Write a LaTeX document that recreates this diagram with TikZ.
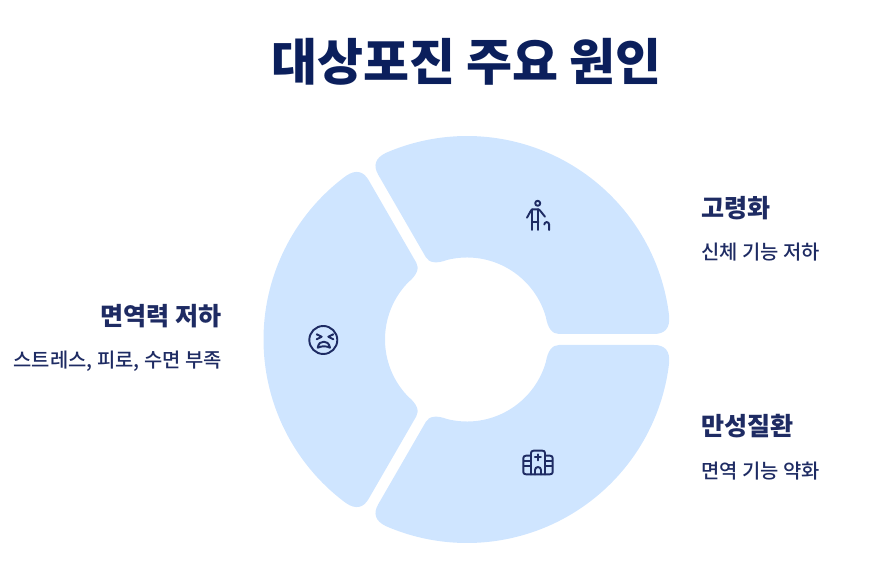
\documentclass[tikz,border=0pt]{standalone}
\usepackage{fontspec}
\setmainfont{Noto Sans CJK KR}
\newfontfamily\medfont{Noto Sans CJK KR Medium}
\usetikzlibrary{calc}
\definecolor{wedgeblue}{HTML}{CFE5FF}
\definecolor{titleink}{HTML}{0B1F5C}
\definecolor{labelink}{HTML}{1E2B63}
\newcommand{\rcorner}[3]{.. controls ($(#1)!.667!(#2)$) and ($(#3)!.667!(#2)$) .. (#3)}
\tikzset{
  titletext/.style={font=\fontsize{37.5}{45}\selectfont\bfseries,text=titleink,inner sep=0pt},
  headtext/.style={font=\fontsize{18.8}{23}\selectfont\bfseries,text=labelink,inner sep=0pt},
  subtext/.style={font=\fontsize{14.9}{18}\medfont,text=labelink,inner sep=0pt},
  iconline/.style={draw=labelink,line width=1.45pt,line cap=round,line join=round}
}
\begin{document}
\begin{tikzpicture}[x=.75pt,y=-.75pt]
\useasboundingbox (0,0) rectangle (893,573);
\foreach \R in {0,120,240}{
\begin{scope}[shift={(467,339.5)},x=.75pt,y=.75pt,rotate=\R]
  \coordinate (a) at (92,5.5);
  \coordinate (aq) at (81.8,5.5);
  \coordinate (b) at (187,5.5);
  \coordinate (bq) at (203.4,5.5);
  \coordinate (bp) at (6.5:203.5);
  \coordinate (cp) at (113.5:203.5);
  \coordinate (cq) at (-96.94,178.9);
  \coordinate (c) at (-88.74,164.7);
  \coordinate (d) at (-41.24,82.42);
  \coordinate (dq) at (-36.14,73.59);
  \coordinate (dp) at (104:82);
  \coordinate (ap) at (16:82);
  \fill[wedgeblue] (a) -- (b) \rcorner{b}{bq}{bp}
    arc[start angle=6.5,end angle=113.5,radius=203.5]
    \rcorner{cp}{cq}{c} -- (d) \rcorner{d}{dq}{dp}
    arc[start angle=104,end angle=16,radius=82]
    \rcorner{ap}{aq}{a} -- cycle;
\end{scope}
}
\node[titletext] (title) at (466.5,62) {대상포진 주요 원인};
\node[headtext,anchor=west] (h1) at (701,208) {고령화};
\node[subtext,anchor=west] (s1) at (701,252.5) {신체 기능 저하};
\node[headtext,anchor=west] (h2) at (701,426) {만성질환};
\node[subtext,anchor=west] (s2) at (701,471.5) {면역 기능 약화};
\node[headtext,anchor=east] (h3) at (222,316.5) {면역력 저하};
\node[subtext,anchor=east] (s3) at (222,361.5) {스트레스, 피로, 수면 부족};
% person icon
\draw[iconline] (537.7,203.3) circle[radius=2.5];
\draw[iconline] (527,217.7) -- (531,210.5) -- (532.5,209.3) -- (538.5,209.3) -- (540,210.5) -- (545,216.7);
\draw[iconline] (532.3,209.3) -- (532.3,230) (538.3,209.3) -- (538.3,230) (532.3,221.7) -- (538.3,221.7);
\draw[iconline] (544.3,224.5) arc[start angle=180,end angle=360,radius=2.4] -- (549.1,230);
% face icon
\draw[iconline] (323.3,340) circle[radius=14];
\draw[iconline] (316.7,334.3) -- (321.7,336.7) -- (316.7,339.3);
\draw[iconline] (333.3,334.3) -- (328.3,336.7) -- (333.3,339.3);
\draw[iconline] (317.7,347.7) .. controls (318.5,343) and (321,341.7) .. (323.8,341.7) .. controls (326.6,341.7) and (329,343) .. (330,347.7) .. controls (326,345.8) and (322,345.8) .. (317.7,347.7) -- cycle;
% hospital icon
\draw[iconline] (531,474.3) -- (531,453) .. controls (531,451.5) and (532,450.7) .. (533.5,450.7) -- (542.5,450.7) .. controls (544,450.7) and (545,451.5) .. (545,453) -- (545,474.3);
\draw[iconline] (531,455.7) -- (526,455.7) .. controls (524.3,455.7) and (523.3,456.7) .. (523.3,458.2) -- (523.3,472) .. controls (523.3,473.5) and (524.3,474.3) .. (526,474.3) -- (550,474.3) .. controls (551.7,474.3) and (552.7,473.5) .. (552.7,472) -- (552.7,458.2) .. controls (552.7,456.7) and (551.7,455.7) .. (550,455.7) -- (545,455.7);
\draw[iconline] (537.9,454.4) -- (537.9,460.4) (534.9,457.4) -- (540.9,457.4);
\draw[iconline] (535,474.3) -- (535,470) arc[start angle=180,end angle=360,radius=3] -- (541,474.3);
\draw[iconline] (524,461) -- (530,461) (524,466) -- (530,466) (546,461) -- (552,461) (546,466) -- (552,466);
\end{tikzpicture}
\end{document}
